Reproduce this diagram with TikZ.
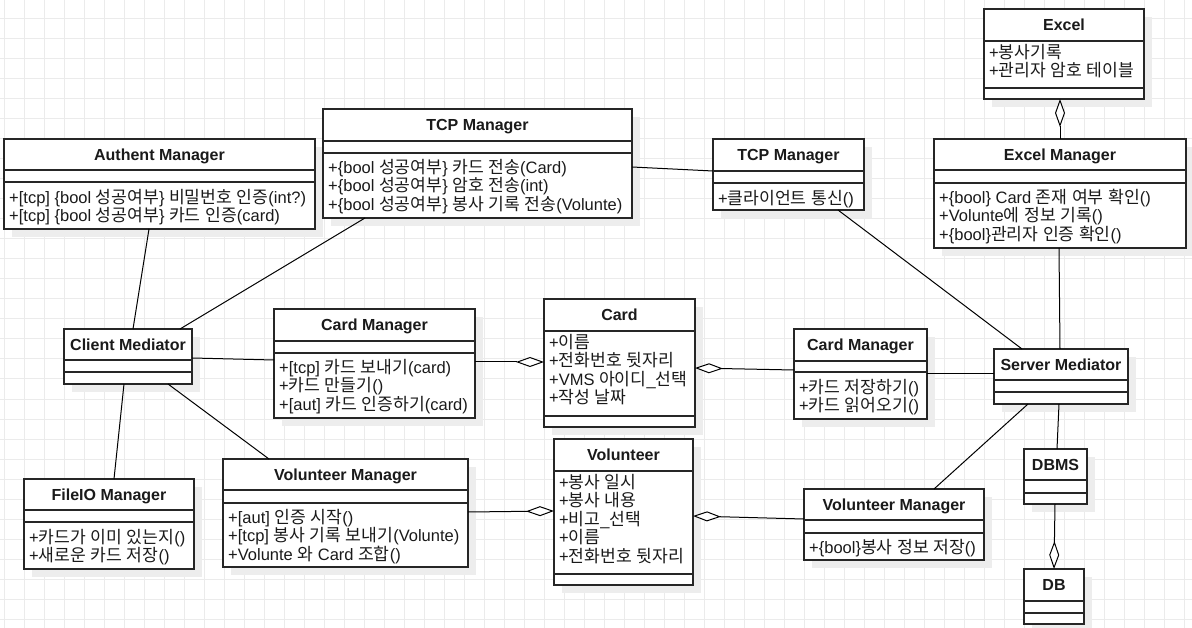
\documentclass[tikz,border=0pt]{standalone}
\usepackage{fontspec}
\setmainfont{Liberation Sans}
\newfontfamily\krfont[Scale=1.04]{Noto Sans CJK KR}
\usetikzlibrary{arrows.meta,calc}
\XeTeXinterchartokenstate=1
\newXeTeXintercharclass\hgclass
\makeatletter
\count@="AC00
\loop
  \XeTeXcharclass\count@=\hgclass
  \ifnum\count@<"D7A3 \advance\count@\@ne
\repeat
\makeatother
\XeTeXinterchartoks 0 \hgclass = {\krfont}
\XeTeXinterchartoks 4095 \hgclass = {\krfont}
\XeTeXinterchartoks \hgclass 0 = {\rmfamily}
\XeTeXinterchartoks \hgclass 4095 = {\rmfamily}
\definecolor{lc}{HTML}{262626}
\definecolor{tc}{HTML}{1A1A1A}
\definecolor{gridc}{HTML}{EBEBEB}
\definecolor{shc}{HTML}{EDEDED}
\tikzset{
  box/.style={draw=lc, line width=1.2pt, fill=white, inner sep=0pt, outer sep=0pt, anchor=north west},
  sepline/.style={draw=lc, line width=1.2pt},
  ttl/.style={anchor=base, inner sep=0pt, text=tc, font=\fontsize{16}{19}\selectfont\bfseries},
  txt/.style={anchor=north west, inner sep=0pt, align=left, text=tc, font=\fontsize{16.5}{18.5}\selectfont},
  con/.style={draw=black, line width=1pt},
  agg/.style={con, -{Diamond[fill=white,length=28pt,width=10pt]}},
}
\newcommand\umlbox[8]{%
  \fill[shc] ({#2+8},{#3+8}) rectangle ({#4+8},{#5+8});
  \node[box, minimum width={(#4)-(#2)}, minimum height={(#5)-(#3)}] (#1) at (#2,#3) {};
  \draw[sepline] (#2,#6) -- (#4,#6) (#2,#7) -- (#4,#7);
  \node[ttl] (#1-t) at ({(#2+#4)/2},{(#3+#6)/2+5.8}) {#8};
}
\newcommand\mtext[4]{%
  \node[txt] (#1) at ({#2+5},{#3-9}) {\rule{0pt}{15pt}#4};
}
\begin{document}
\begin{tikzpicture}[x=1pt,y=-1pt]
\useasboundingbox (0,0) rectangle (1192,628);
\fill[white] (0,0) rectangle (1192,628);
\foreach \gx in {4,24,...,1184} \draw[gridc, line width=1pt] (\gx,0) -- (\gx,628);
\foreach \gy in {19,39,...,619} \draw[gridc, line width=1pt] (0,\gy) -- (1192,\gy);

\umlbox{auth}{4}{139}{315}{229}{170}{182}{Authent Manager}
\mtext{auth-m}{4}{197}{+[tcp] \{bool 성공여부\} 비밀번호 인증(int?)\\+[tcp] \{bool 성공여부\} 카드 인증(card)}

\umlbox{tcpc}{323}{109}{632}{218}{141}{153}{TCP Manager}
\mtext{tcpc-m}{323}{167}{+\{bool 성공여부\} 카드 전송(Card)\\+\{bool 성공여부\} 암호 전송(int)\\+\{bool 성공여부\} 봉사 기록 전송(Volunte)}

\umlbox{tcps}{713}{139}{864}{210}{171}{183}{TCP Manager}
\mtext{tcps-m}{713}{198}{+클라이언트 통신()}

\umlbox{excel}{984}{9}{1144}{99}{41}{88}{Excel}
\mtext{excel-a}{984}{52}{+봉사기록\\+관리자 암호 테이블}

\umlbox{excelm}{934}{139}{1186}{248}{170}{183}{Excel Manager}
\mtext{excelm-m}{934}{197}{+\{bool\} Card 존재 여부 확인()\\+Volunte에 정보 기록()\\+\{bool\}관리자 인증 확인()}

\umlbox{climed}{64}{329}{192}{384}{360}{372}{Client Mediator}

\umlbox{cardc}{274}{309}{475}{418}{341}{353}{Card Manager}
\mtext{cardc-m}{274}{367}{+[tcp] 카드 보내기(card)\\+카드 만들기()\\+[aut] 카드 인증하기(card)}

\umlbox{card}{544}{299}{695}{427}{331}{416}{Card}
\mtext{card-a}{544}{342}{+이름\\+전화번호 뒷자리\\+VMS 아이디\_선택\\+작성 날짜}

\umlbox{cards}{794}{329}{927}{419}{361}{372}{Card Manager}
\mtext{cards-m}{794}{387}{+카드 저장하기()\\+카드 읽어오기()}

\umlbox{fileio}{24}{479}{194}{569}{510}{522}{FileIO Manager}
\mtext{fileio-m}{24}{537}{+카드가 이미 있는지()\\+새로운 카드 저장()}

\umlbox{volc}{223}{459}{468}{567}{490}{503}{Volunteer Manager}
\mtext{volc-m}{223}{517}{+[aut] 인증 시작()\\+[tcp] 봉사 기록 보내기(Volunte)\\+Volunte 와 Card 조합()}

\umlbox{vol}{554}{439}{693}{585}{471}{574}{Volunteer}
\mtext{vol-a}{554}{482}{+봉사 일시\\+봉사 내용\\+비고\_선택\\+이름\\+전화번호 뒷자리}

\umlbox{vols}{804}{489}{984}{560}{520}{533}{Volunteer Manager}
\mtext{vols-m}{804}{547}{+\{bool\}봉사 정보 저장()}

\umlbox{servmed}{994}{349}{1128}{404}{380}{392}{Server Mediator}
\umlbox{dbms}{1024}{449}{1087}{504}{480}{493}{DBMS}
\umlbox{db}{1024}{569}{1084}{624}{601}{613}{DB}

% connectors
\draw[con] ($(auth.south west)+(145,0)$) -- ($(climed.north west)+(69,0)$);
\draw[con] ($(tcpc.south west)+(42,0)$) -- ($(climed.north west)+(116,0)$);
\draw[con] ($(climed.north east)+(0,29)$) -- ($(cardc.north west)+(0,51)$);
\draw[con] ($(climed.south west)+(60,0)$) -- ($(fileio.north west)+(90,0)$);
\draw[con] ($(climed.south west)+(104,0)$) -- ($(volc.north west)+(46,0)$);
\draw[agg] ($(cardc.north east)+(0,53)$) -- ($(card.north west)+(0,63)$);
\draw[agg] ($(cards.north west)+(0,41)$) -- ($(card.north east)+(0,69)$);
\draw[con] ($(tcpc.north east)+(0,58)$) -- ($(tcps.north west)+(0,32)$);
\draw[con] ($(tcps.south west)+(125,0)$) -- ($(servmed.north west)+(28,0)$);
\draw[con] ($(excelm.south west)+(125,0)$) -- ($(servmed.north west)+(66,0)$);
\draw[agg] ($(excelm.north west)+(126,0)$) -- ($(excel.south west)+(76,0)$);
\draw[con] ($(servmed.north west)+(0,25)$) -- ($(cards.north east)+(0,45)$);
\draw[con] ($(servmed.south west)+(34,0)$) -- ($(vols.north west)+(130,0)$);
\draw[con] ($(servmed.south west)+(65,0)$) -- ($(dbms.north west)+(33,0)$);
\draw[agg] ($(dbms.south west)+(31,0)$) -- ($(db.north west)+(30,0)$);
\draw[agg] ($(volc.north east)+(0,53)$) -- ($(vol.north west)+(0,72)$);
\draw[agg] ($(vols.north west)+(0,30)$) -- ($(vol.north east)+(0,77)$);
\end{tikzpicture}
\end{document}
